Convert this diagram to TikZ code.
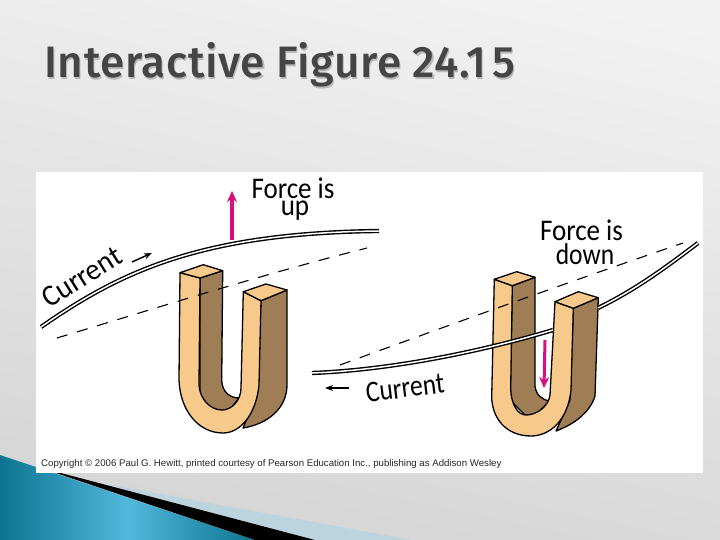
\documentclass[tikz,border=0pt]{standalone}
\usepackage{fontspec}
\setmainfont{Carlito}
\newfontfamily\titlefont[LetterSpace=1.5]{Fira Sans Medium}
\newfontfamily\copyfont{Liberation Sans}
\usetikzlibrary{arrows.meta}
\definecolor{face}{HTML}{F7C98B}
\definecolor{side}{HTML}{A07E55}
\definecolor{pinkarrow}{HTML}{D8107E}
\definecolor{teal1}{HTML}{0B7590}
\definecolor{teal2}{HTML}{52B8DC}
\definecolor{palewedge}{HTML}{BCD4DD}
\definecolor{titlegray}{HTML}{454545}
\tikzset{
  outline/.style={draw=black,line width=1.3pt,line join=round},
  faceshape/.style={outline,fill=face},
  sideshape/.style={outline,fill=side},
  wire/.style={draw=black,line width=1.4pt,double=white,double distance=1.5pt,line cap=butt},
  dashline/.style={draw=black,line width=1.1pt,dash pattern=on 11pt off 10pt},
  forcearrow/.style={draw=pinkarrow,line width=3.6pt,-{Stealth[length=11pt,width=10pt]}},
  smallarrow/.style={draw=black,line width=1.5pt,-{Stealth[length=8pt,width=6pt]}},
  hand/.style={font=\fontsize{30}{30}\selectfont,text=black,inner sep=0pt},
  titletext/.style={font=\titlefont\fontsize{44}{44}\selectfont,inner sep=0pt,anchor=base west}
}
\begin{document}
\begin{tikzpicture}[x=1pt,y=-1pt]
\useasboundingbox (0,0) rectangle (720,540);
% slide background
\shade[shading=axis,top color=white!95!black,bottom color=black!17,middle color=black!11,shading angle=-12] (-30,-30) rectangle (750,570);
% swoosh
\shade[left color=teal1,right color=teal1,middle color=teal2] (0,455) -- (255,540) -- (0,540) -- cycle;
\fill[palewedge] (105,484) -- (412,540) -- (315,540) -- cycle;
\fill[black] (38,467) -- (315,540) -- (255,540) -- cycle;
% image panel
\fill[white] (36,172) rectangle (703,473);
% title
\node[titletext,text=black!28] (titleshadow) at (45.2,79.2) {Interactive Figure 24.1\kern6pt 5};
\node[titletext,text=titlegray] (titlenode) at (44,78) {Interactive Figure 24.1\kern6pt 5};
% left wire and dashed line
\coordinate (wireLa) at (41,327);
\coordinate (wireLb) at (379,231);
\coordinate (dashLa) at (57,338);
\coordinate (dashLb) at (367,248);
\draw[wire] (wireLa) .. controls (120,272) and (200,233) .. (wireLb);
% left magnet
\draw[sideshape] (200,278) -- (222.7,270.7) -- (221.7,380) .. controls (222,392) and (230,398) .. (239,398) -- (222,420) -- (200,400) -- cycle;
\draw[sideshape] (261,300.7) -- (287,290) -- (287,385) .. controls (287,408) and (268,424) .. (243,428) -- (255,400) -- cycle;
\draw[faceshape] (180,272.7) -- (200,278) -- (199,385) .. controls (200,400) and (211,410) .. (222,410) .. controls (232,410) and (241,400) .. (241,388) -- (243.3,291.7) -- (261,300.7) -- (259,385) .. controls (256,415) and (240,433) .. (223,433) .. controls (198,433) and (180,410) .. (179,380) -- cycle;
\draw[faceshape] (180,272.7) -- (203.3,264.7) -- (222.7,270.7) -- (200,278) -- cycle;
\draw[faceshape] (243.3,291.7) -- (266,284) -- (287,290) -- (261,300.7) -- cycle;
\draw[dashline] (dashLa) .. controls (150,310) and (260,275) .. (dashLb);
% right wire parts, dashed line
\coordinate (wireRa) at (312,373);
\coordinate (wireRb) at (553,330);
\coordinate (wireRc) at (598,308);
\coordinate (wireRd) at (698,243);
\coordinate (dashRa) at (340,365);
\coordinate (dashRb) at (683,243);
% right magnet
\draw[sideshape] (512.3,285.7) -- (535,277.3) -- (535,386) .. controls (536,395) and (542,400) .. (550,401) -- (530,420) -- (510,400) -- cycle;
\draw[sideshape] (573.3,308.3) -- (598.3,297.7) -- (595,396) .. controls (590,412) and (575,424) .. (556,431) -- (570,400) -- cycle;
\draw[faceshape] (494.3,279.3) -- (512.3,285.7) -- (510.7,388) .. controls (511,405) and (518,415) .. (526,415) .. controls (538,415) and (549,405) .. (550,395) -- (555,301.7) -- (573.3,308.3) -- (571,390) .. controls (568,420) and (550,436) .. (531,436) .. controls (506,436) and (492,418) .. (491.7,397) -- cycle;
\draw[faceshape] (494.3,279.3) -- (516.7,271.7) -- (535,277.3) -- (512.3,285.7) -- cycle;
\draw[faceshape] (555,301.7) -- (578.3,291.7) -- (598.3,297.7) -- (573.3,308.3) -- cycle;
\draw[wire] (wireRa) .. controls (390,370) and (480,352) .. (wireRb);
\draw[wire] (wireRc) .. controls (635,290) and (665,268) .. (wireRd);
\draw[dashline] (dashRa) .. controls (430,332) and (560,285) .. (dashRb);
% force arrows
\coordinate (forceUpA) at (232,240);
\coordinate (forceUpB) at (232,191);
\coordinate (forceDownA) at (545,340);
\coordinate (forceDownB) at (544,388);
\draw[forcearrow] (forceUpA) -- (forceUpB);
\draw[forcearrow,line width=3pt] (forceDownA) -- (forceDownB);
% current arrows
\coordinate (curLa) at (132,262);
\coordinate (curLb) at (152,253);
\coordinate (curRa) at (349,388);
\coordinate (curRb) at (325,388);
\draw[smallarrow] (curLa) -- (curLb);
\draw[smallarrow] (curRa) -- (curRb);
% labels
\node[hand] (forceL1) at (293,188) {\scalebox{.9}[1]{Force is}};
\node[hand] (forceL2) at (295,211) {\scalebox{.9}[1]{up}};
\node[hand] (forceR1) at (581.5,230) {\scalebox{.9}[1]{Force is}};
\node[hand] (forceR2) at (585,254) {\scalebox{.85}[1]{down}};
\node[hand,rotate=32] (curL) at (82,277) {\scalebox{.95}[1]{Current}};
\node[hand,rotate=7] (curR) at (405,388) {\scalebox{.85}[1]{Current}};
% copyright
\node[font=\copyfont\fontsize{9.65}{11}\selectfont,inner sep=0pt,anchor=base west,text=black!85] (copy) at (41,466) {Copyright © 2006 Paul G. Hewitt, printed courtesy of Pearson Education Inc., publishing as Addison Wesley};
\end{tikzpicture}
\end{document}
